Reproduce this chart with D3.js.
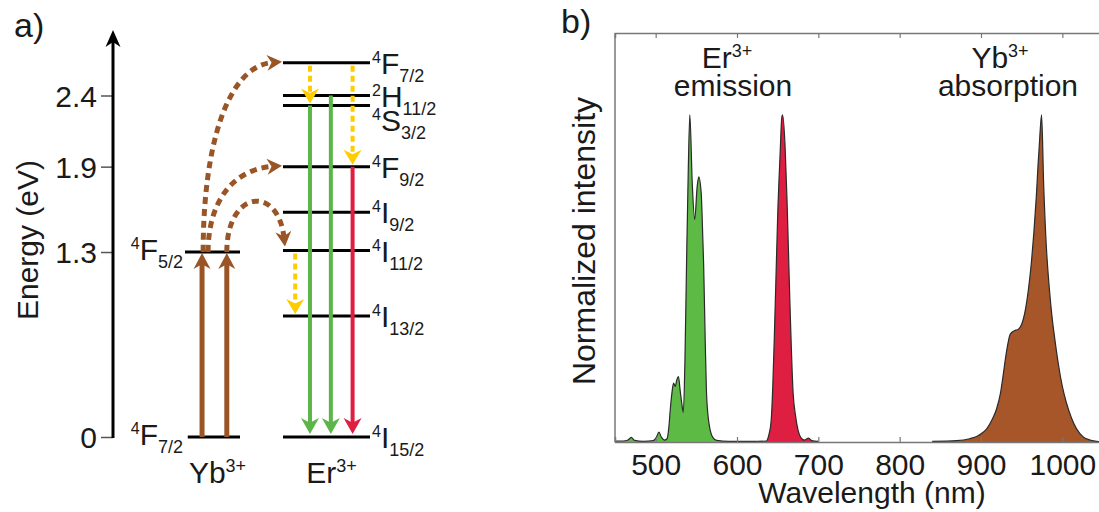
<!DOCTYPE html>
<html>
<head>
<meta charset="utf-8">
<script src="https://cdn.jsdelivr.net/npm/d3@7"></script>
<style>
  html, body { margin: 0; padding: 0; background: #fff; }
  svg text { font-family: "Liberation Sans", Arial, Helvetica, sans-serif; fill: #1a1a1a; }
</style>
</head>
<body>
<svg id="fig" width="1099" height="512"></svg>
<script>
// ---------- Energy levels (eV) ----------
const energyTicks = [0, 1.3, 1.9, 2.4];
const ybLevelNames = ["4F7/2", "4F5/2"];
const ybLevelEnergies = [0, 1.30];
const erLevelNames = ["4I15/2", "4I13/2", "4I11/2", "4I9/2", "4F9/2", "4S3/2", "2H11/2", "4F7/2"];
const erLevelEnergies = [0, 0.85, 1.31, 1.58, 1.90, 2.33, 2.40, 2.63];

// ---------- Transitions ----------
const ybPumps = [["4F7/2", "4F5/2"], ["4F7/2", "4F5/2"]];
const energyTransfers = [["4F5/2", "4F7/2"], ["4F5/2", "4F9/2"], ["4F5/2", "4I11/2"]];
const erEmissions = [["4S3/2", "4I15/2"], ["2H11/2", "4I15/2"], ["4F9/2", "4I15/2"]];
const erEmissionKinds = ["green", "green", "red"];
const erRelaxations = [["4F7/2", "4S3/2"], ["4F7/2", "4F9/2"], ["4I11/2", "4I13/2"]];

// ---------- Spectra (wavelength nm, normalized intensity) ----------
const wavelengthTicks = [500, 600, 700, 800, 900, 1000];
const greenWavelength = [450, 460, 466, 470, 474, 485, 497, 501, 504, 507, 511, 514, 516, 518, 520, 522, 524, 526, 528, 530, 532, 534, 536, 538, 540, 542, 545, 548, 551, 553, 556, 558, 559, 561, 562.5, 564, 566, 570, 575, 590, 610, 625];
const greenIntensity  = [0.003, 0.003, 0.006, 0.014, 0.005, 0.002, 0.004, 0.015, 0.03, 0.015, 0.006, 0.01, 0.04, 0.10, 0.15, 0.18, 0.17, 0.19, 0.20, 0.16, 0.12, 0.09, 0.25, 0.55, 0.82, 1.0, 0.79, 0.68, 0.78, 0.81, 0.76, 0.62, 0.54, 0.30, 0.15, 0.09, 0.05, 0.015, 0.005, 0.002, 0.002, 0.002];
const redWavelength = [625, 636, 639, 642, 644, 646, 648, 650, 653, 655, 656, 659, 661.5, 665, 669, 672, 675, 679, 683, 688, 692, 700];
const redIntensity  = [0.002, 0.003, 0.02, 0.065, 0.17, 0.33, 0.51, 0.69, 0.88, 0.99, 1.0, 0.91, 0.74, 0.43, 0.15, 0.08, 0.037, 0.012, 0.006, 0.012, 0.004, 0.002];
const ybWavelength = [840, 870, 886, 897, 907, 914, 919, 924, 927, 931, 936, 941, 946, 950, 955, 958, 962, 965, 968, 970, 972, 974.5, 977, 980.5, 984, 987, 991, 995, 1000, 1005, 1011, 1017.5, 1026, 1034, 1045, 1050];
const ybIntensity  = [0.002, 0.004, 0.01, 0.02, 0.04, 0.07, 0.10, 0.15, 0.20, 0.27, 0.33, 0.34, 0.345, 0.36, 0.41, 0.46, 0.55, 0.64, 0.75, 0.84, 0.92, 1.0, 0.79, 0.59, 0.47, 0.39, 0.31, 0.24, 0.17, 0.12, 0.075, 0.04, 0.015, 0.006, 0.001, 0.0];

// ---------- Colours ----------
const COL = {
  brown: "#9A5527", green: "#5BB548", red: "#DE1F41", yellow: "#FFCC00",
  greenFill: "#5DBB45", redFill: "#DE1F41", brownFill: "#A65628"
};

const svg = d3.select("#fig");

// Arrowhead with a notched back ("stealth"), tip at (tx,ty), pointing along (dx,dy)
function arrowHead(g, tx, ty, dx, dy, len, wid, color) {
  const n = Math.hypot(dx, dy); const ux = dx / n, uy = dy / n; const px = -uy, py = ux;
  const bx = tx - ux * len, by = ty - uy * len;
  const nx = tx - ux * len * 0.7, ny = ty - uy * len * 0.7;
  g.append("path")
    .attr("d", `M${tx},${ty}L${bx + px * wid / 2},${by + py * wid / 2}L${nx},${ny}L${bx - px * wid / 2},${by - py * wid / 2}Z`)
    .attr("fill", color);
}

// Term symbol such as 4F7/2 → superscript multiplicity, letter, subscript J
function termLabel(g, name, x, y, anchor) {
  const m = name.match(/^(\d)([A-Z])(.+)$/);
  const t = g.append("text").attr("x", x).attr("y", y).attr("text-anchor", anchor);
  t.append("tspan").attr("font-size", 16).attr("dy", -11).text(m[1]);
  t.append("tspan").attr("font-size", 30).attr("dy", 11).text(m[2]);
  t.append("tspan").attr("font-size", 18).attr("dy", 8).text(m[3]);
}

// =============== Panel a: energy level diagram ===============
const gA = svg.append("g");
const yE = d3.scaleLinear().domain([0, 2.4]).range([437, 95.5]);
const xYb = d3.scaleLinear().domain([0, 1]).range([185, 240]);
const xEr = d3.scaleLinear().domain([0, 1]).range([283, 370]);

const ybLevels = new Map(ybLevelNames.map((n, i) => [n, ybLevelEnergies[i]]));
const erLevels = new Map(erLevelNames.map((n, i) => [n, erLevelEnergies[i]]));

// Energy axis
const axA = gA.append("g").attr("transform", "translate(113,0)")
  .call(d3.axisLeft(yE).tickValues(energyTicks).tickSize(12).tickPadding(4)
    .tickFormat(d => d === 0 ? "0" : d3.format(".1f")(d)));
axA.select(".domain").remove();
axA.selectAll(".tick line").attr("stroke", "#555").attr("stroke-width", 1.5);
axA.selectAll(".tick text").attr("font-size", 30).attr("dy", "0.36em")
  .attr("font-family", "'Liberation Sans', Arial, sans-serif").attr("fill", "#1a1a1a");
gA.append("line").attr("x1", 113).attr("x2", 113).attr("y1", yE(0) + 1).attr("y2", yE(2.78))
  .attr("stroke", "#000").attr("stroke-width", 3);
arrowHead(gA, 113, yE(2.86), 0, -1, 17, 15, "#000");

gA.append("text").attr("transform", `translate(38,${240}) rotate(-90)`)
  .attr("text-anchor", "middle").attr("font-size", 30).text("Energy (eV)");
gA.append("text").attr("x", 14).attr("y", 37).attr("font-size", 34).text("a)");

// Level lines
ybLevelNames.forEach((n, i) => {
  const y = yE(ybLevelEnergies[i]);
  gA.append("line").attr("x1", xYb(i === 0 ? 0.05 : 0)).attr("x2", xYb(1)).attr("y1", y).attr("y2", y)
    .attr("stroke", "#000").attr("stroke-width", 3);
  termLabel(gA, n, 183, y + 8, "end");
});
let prevBase = -Infinity;
erLevelNames.map((n, i) => ({ n, e: erLevelEnergies[i] }))
  .sort((a, b) => b.e - a.e)
  .forEach(d => {
    const y = yE(d.e);
    gA.append("line").attr("x1", xEr(0)).attr("x2", xEr(1)).attr("y1", y).attr("y2", y)
      .attr("stroke", "#000").attr("stroke-width", 3);
    const base = Math.max(y + 11, prevBase + 24);
    prevBase = base;
    termLabel(gA, d.n, 372, base, "start");
  });

// Ion names
[["Yb", xYb(0.5) + 5], ["Er", xEr(0.5) + 5]].forEach(([ion, cx]) => {
  const t = gA.append("text").attr("x", cx).attr("y", 483).attr("text-anchor", "middle");
  t.append("tspan").attr("font-size", 30).text(ion);
  t.append("tspan").attr("font-size", 18).attr("dy", -11).text("3+");
});

// Yb absorption (solid brown, upward)
const pumpSlots = [0.31, 0.76];
ybPumps.forEach(([from, to], i) => {
  const x = xYb(pumpSlots[i]);
  const y0 = yE(ybLevels.get(from)), y1 = yE(ybLevels.get(to)) + 1;
  gA.append("line").attr("x1", x).attr("x2", x).attr("y1", y0).attr("y2", y1 + 11)
    .attr("stroke", COL.brown).attr("stroke-width", 5);
  arrowHead(gA, x, y1, 0, -1, 16, 17, COL.brown);
});

// Er radiative emission (solid green/red, downward)
const emissionSlots = [0.31, 0.55, 0.80];
erEmissions.forEach(([from, to], i) => {
  const x = xEr(emissionSlots[i]);
  const c = COL[erEmissionKinds[i]];
  const y0 = yE(erLevels.get(from)), y1 = yE(erLevels.get(to)) - 3;
  gA.append("line").attr("x1", x).attr("x2", x).attr("y1", y0).attr("y2", y1 - 11)
    .attr("stroke", c).attr("stroke-width", 4);
  arrowHead(gA, x, y1, 0, 1, 16, 18, c);
});

// Non-radiative relaxation (dashed yellow, downward)
const relaxSlots = [0.31, 0.80, 0.14];
erRelaxations.forEach(([from, to], i) => {
  const x = xEr(relaxSlots[i]);
  const y0 = yE(erLevels.get(from)) + 3, y1 = yE(erLevels.get(to)) - 2;
  gA.append("line").attr("x1", x).attr("x2", x).attr("y1", y0).attr("y2", y1 - 10)
    .attr("stroke", COL.yellow).attr("stroke-width", 4).attr("stroke-dasharray", "6,4");
  arrowHead(gA, x, y1, 0, 1, 15, 18, COL.yellow);
});

// Energy transfer Yb → Er (dashed brown curves)
const transferSlots = [0.33, 0.42, 0.76];
energyTransfers.forEach(([from, to], i) => {
  const x0 = xYb(transferSlots[i]), y0 = yE(ybLevels.get(from));
  const eTo = erLevels.get(to);
  let x1 = xEr(0) - 1, y1 = yE(eTo) - 1;
  let c1, c2;
  if (eTo - ybLevels.get(from) > 0.2) {
    const dy = y0 - y1;
    c1 = [x0, y0 - dy * 0.55];
    c2 = [x0 + (x1 - x0) * 0.3, y1 + 4];
  } else {
    x1 = xEr(0) + 2; y1 = yE(eTo) - 4;
    c1 = [x0, y0 - 62];
    c2 = [x1 - 7, y0 - 68];
  }
  const dx = x1 - c2[0], dyy = y1 - c2[1], n = Math.hypot(dx, dyy);
  const ex = x1 - dx / n * 9, ey = y1 - dyy / n * 9;
  const p = d3.path();
  p.moveTo(x0, y0); p.bezierCurveTo(c1[0], c1[1], c2[0], c2[1], ex, ey);
  gA.append("path").attr("d", p.toString()).attr("fill", "none")
    .attr("stroke", COL.brown).attr("stroke-width", 5).attr("stroke-dasharray", "7,5");
  arrowHead(gA, x1, y1, dx, dyy, 15, 16, COL.brown);
});

// =============== Panel b: spectra ===============
const gB = svg.append("g");
const x = d3.scaleLinear().domain([450, 1050]).range([615, 1103]);
const y = d3.scaleLinear().domain([0, 1.25]).range([442, 33]);

const area = d3.area().x(d => x(d[0])).y0(y(0)).y1(d => y(d[1])).curve(d3.curveMonotoneX);
const line = d3.line().x(d => x(d[0])).y(d => y(d[1])).curve(d3.curveMonotoneX);
[
  [greenWavelength, greenIntensity, COL.greenFill],
  [redWavelength, redIntensity, COL.redFill],
  [ybWavelength, ybIntensity, COL.brownFill]
].forEach(([wl, it, fill]) => {
  const data = wl.map((w, i) => [w, it[i]]);
  gB.append("path").attr("d", area(data)).attr("fill", fill);
  gB.append("path").attr("d", line(data)).attr("fill", "none").attr("stroke", "#2a2a2a").attr("stroke-width", 1.2);
});

// Frame and axes
const axB = gB.append("g").attr("transform", `translate(0,${y(0)})`)
  .call(d3.axisBottom(x).tickValues(wavelengthTicks).tickSize(-5).tickPadding(12).tickFormat(d3.format("d")));
axB.selectAll(".tick text").attr("font-size", 30).attr("font-family", "'Liberation Sans', Arial, sans-serif").attr("fill", "#1a1a1a");
const axT = gB.append("g").attr("transform", `translate(0,${y(1.25)})`)
  .call(d3.axisTop(x).tickValues(wavelengthTicks).tickSize(-5).tickFormat(""));
[axB, axT].forEach(a => {
  a.select(".domain").attr("stroke", "#777").attr("stroke-width", 1.5);
  a.selectAll(".tick line").attr("stroke", "#777").attr("stroke-width", 1.2);
});
gB.append("line").attr("x1", 615).attr("x2", 615).attr("y1", y(1.25)).attr("y2", y(0))
  .attr("stroke", "#777").attr("stroke-width", 1.5);

gB.append("text").attr("x", 872).attr("y", 503).attr("text-anchor", "middle").attr("font-size", 30).text("Wavelength (nm)");
gB.append("text").attr("transform", "translate(595,241) rotate(-90)").attr("text-anchor", "middle")
  .attr("font-size", 32).text("Normalized intensity");
gB.append("text").attr("x", 561).attr("y", 33).attr("font-size", 34).text("b)");

[["Er", "emission", 727, 733], ["Yb", "absorption", 1000, 1008]].forEach(([ion, word, cx1, cx2]) => {
  const t = gB.append("text").attr("x", cx1).attr("y", 68).attr("text-anchor", "middle");
  t.append("tspan").attr("font-size", 30).text(ion);
  t.append("tspan").attr("font-size", 18).attr("dy", -11).text("3+");
  gB.append("text").attr("x", cx2).attr("y", 96).attr("text-anchor", "middle").attr("font-size", 30).text(word);
});
</script>
</body>
</html>
